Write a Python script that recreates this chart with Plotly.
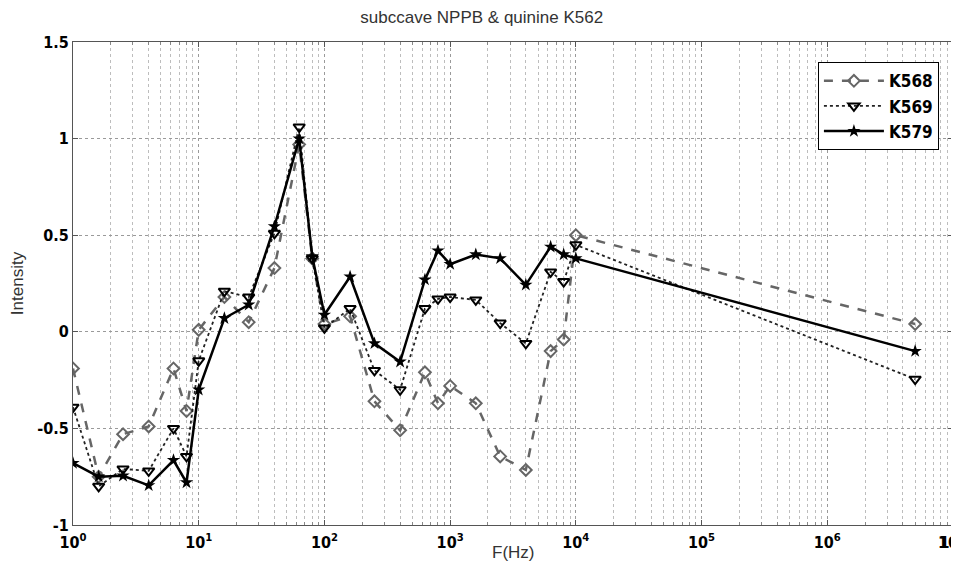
import plotly.graph_objects as go

freq = [1, 1.6, 2.5, 4, 6.3, 8, 10, 16, 25, 40, 63, 80, 100, 160, 250, 400,
        630, 800, 1000, 1600, 2500, 4000, 6300, 8000, 10000, 5000000]

k568 = [-0.19, -0.75, -0.53, -0.49, -0.19, -0.41, 0.01, 0.18, 0.05, 0.33, 0.97, 0.38,
        0.04, 0.08, -0.36, -0.51, -0.21, -0.37, -0.28, -0.37, -0.645, -0.715, -0.10,
        -0.04, 0.50, 0.04]
k569 = [-0.39, -0.80, -0.71, -0.72, -0.50, -0.645, -0.15, 0.21, 0.18, 0.51, 1.06, 0.38,
        0.02, 0.12, -0.20, -0.30, 0.12, 0.17, 0.18, 0.165, 0.045, -0.06, 0.31, 0.26,
        0.45, -0.245]
k579 = [-0.68, -0.75, -0.745, -0.795, -0.665, -0.78, -0.30, 0.07, 0.14, 0.545, 1.0, 0.39,
        0.088, 0.285, -0.06, -0.155, 0.27, 0.42, 0.35, 0.40, 0.38, 0.243, 0.44, 0.40,
        0.38, -0.10]

x_tickvals = [1, 10, 100, 1000, 10000, 100000, 1000000, 10000000]
x_ticktext = ["10<sup>%d</sup>" % i for i in range(8)]
y_tickvals = [-1, -0.5, 0, 0.5, 1, 1.5]
y_ticktext = ["-1", "-0.5", "0", "0.5", "1", "1.5"]

narrow = "Liberation Sans Narrow, DejaVu Sans Condensed, Arial Narrow, sans-serif"
tick_font = dict(family=narrow, size=16, color="black", weight="bold")

fig = go.Figure()
fig.add_trace(go.Scatter(
    x=freq, y=k568, name="K568", mode="lines+markers",
    line=dict(color="#666666", width=2.5, dash="dash"),
    marker=dict(symbol="diamond-open", size=9, color="#666666", line=dict(width=2, color="#666666")),
))
fig.add_trace(go.Scatter(
    x=freq, y=k569, name="K569", mode="lines+markers",
    line=dict(color="#222222", width=1.8, dash="dot"),
    marker=dict(symbol="triangle-down-open", size=10, color="black", line=dict(width=2, color="black")),
))
fig.add_trace(go.Scatter(
    x=freq, y=k579, name="K579", mode="lines+markers",
    line=dict(color="black", width=2.5),
    marker=dict(symbol="star", size=10, color="black"),
))

fig.update_layout(
    width=959, height=580,
    margin=dict(l=65, r=14, t=34, b=63, autoexpand=False),
    paper_bgcolor="white", plot_bgcolor="white",
    title=dict(text="subccave NPPB & quinine K562", x=0.494, xanchor="center", y=0.984, yanchor="middle",
               font=dict(family="Liberation Sans, Arial, sans-serif", size=17, color="#333333")),
    showlegend=True,
    legend=dict(x=0.984, xanchor="right", y=0.958, yanchor="top",
                bgcolor="white", bordercolor="black", borderwidth=1,
                font=dict(family=narrow, size=17, color="black", weight="bold"),
                tracegroupgap=6, itemwidth=60),
    xaxis=dict(
        type="log", range=[0, 7], automargin=False,
        tickvals=x_tickvals, ticktext=x_ticktext, tickfont=tick_font,
        ticklabelstandoff=3,
        showline=True, linecolor="#555555", linewidth=1, mirror="ticks",
        ticks="inside", ticklen=5, tickcolor="#555555",
        showgrid=True, gridcolor="#9a9a9a", griddash="dot", gridwidth=1,
        minor=dict(dtick="D1", showgrid=True, gridcolor="#bdbdbd", griddash="dot",
                   ticks="inside", ticklen=3, tickcolor="#888888"),
        zeroline=False,
    ),
    yaxis=dict(
        range=[-1, 1.5], automargin=False,
        tickvals=y_tickvals, ticktext=y_ticktext, tickfont=tick_font,
        showline=True, linecolor="#555555", linewidth=1, mirror="ticks",
        ticks="inside", ticklen=5, tickcolor="#555555",
        showgrid=True, gridcolor="#9a9a9a", griddash="dot", gridwidth=1,
        zeroline=False,
        title=dict(text="Intensity", font=dict(family="Liberation Sans, Arial, sans-serif", size=17, color="#333333"),
                   standoff=18),
    ),
    annotations=[
        dict(text="F(Hz)", xref="paper", yref="paper", x=0.5, y=-0.056,
             xanchor="center", yanchor="middle", showarrow=False,
             font=dict(family="Liberation Sans, Arial, sans-serif", size=17, color="#333333")),
        dict(text="10<sup>7</sup>", xref="paper", yref="paper", x=1.0, y=-0.008,
             xanchor="center", yanchor="top", showarrow=False, xshift=-2, font=tick_font),
    ],
)

fig.write_html("out.html")
